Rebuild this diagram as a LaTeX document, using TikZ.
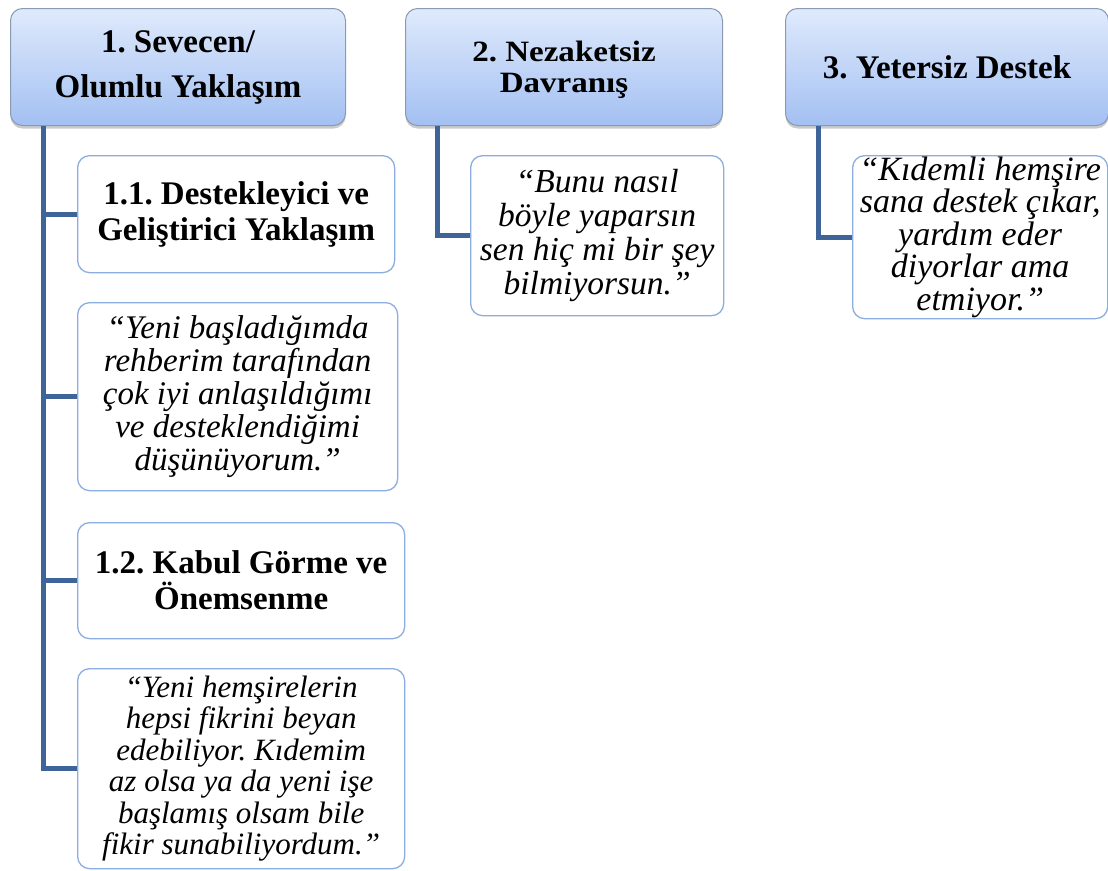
\documentclass[tikz,border=0pt]{standalone}
\usepackage{fontspec}
\setmainfont{Liberation Serif}
\newfontfamily\widebold[FakeStretch=1.12]{Liberation Serif}
\usetikzlibrary{shadows}
\definecolor{hdtop}{HTML}{DFEAFC}
\definecolor{hdbot}{HTML}{A3C0F2}
\definecolor{hdborder}{HTML}{8A99B4}
\definecolor{boxborder}{HTML}{8CADDF}
\definecolor{connc}{HTML}{3F6499}
\tikzset{
  header/.style={draw=hdborder, line width=1pt, rounded corners=12pt,
    top color=hdtop, bottom color=hdbot, anchor=north west, align=center,
    inner sep=0pt, font=\frenchspacing\fontsize{33}{45}\selectfont\bfseries,
    drop shadow={shadow xshift=0pt, shadow yshift=-3pt, opacity=0.35, fill=black!60}},
  subbox/.style={draw=boxborder, line width=1.3pt, rounded corners=12pt, fill=white,
    anchor=north west, align=center, inner sep=0pt,
    font=\frenchspacing\fontsize{33}{36}\selectfont\bfseries},
  quotebox/.style={draw=boxborder, line width=1.3pt, rounded corners=12pt, fill=white,
    anchor=north west, align=center, inner sep=0pt,
    font=\frenchspacing\fontsize{31}{31.5}\selectfont\itshape},
  conn/.style={draw=connc, line width=5pt}
}
\begin{document}
\begin{tikzpicture}[x=1pt,y=-1pt]
\useasboundingbox (0,0) rectangle (1108,870);
% headers
\node[header, minimum width=335pt, minimum height=117pt] (h1) at (10,8) {1. Sevecen/\\Olumlu Yaklaşım};
\node[header, minimum width=317pt, minimum height=117pt, text depth=0pt,
  font=\frenchspacing\widebold\fontsize{29.5}{31}\selectfont\bfseries] (h2) at (405,8) {2. Nezaketsiz\\Davranış};
\node[header, minimum width=323pt, minimum height=117pt] (h3) at (785,8) {3. Yetersiz Destek};
% column 1
\node[subbox, minimum width=317pt, minimum height=117pt] (s11) at (77,155) {1.1. Destekleyici ve\\Geliştirici Yaklaşım};
\node[quotebox, minimum width=320pt, minimum height=188pt,
  font=\frenchspacing\fontsize{33}{33}\selectfont\itshape] (q1) at (77,302) {“Yeni başladığımda\\rehberim tarafından\\çok iyi anlaşıldığımı\\ve desteklendiğimi\\düşünüyorum.”};
\node[subbox, minimum width=327pt, minimum height=116pt] (s12) at (77,522) {1.2. Kabul Görme ve\\Önemsenme};
\node[quotebox, minimum width=327pt, minimum height=200pt] (q2) at (77,668) {“Yeni hemşirelerin\\hepsi fikrini beyan\\edebiliyor. Kıdemim\\az olsa ya da yeni işe\\başlamış olsam bile\\fikir sunabiliyordum.”};
% column 2
\node[quotebox, minimum width=253pt, minimum height=160pt,
  font=\frenchspacing\fontsize{33.5}{34}\selectfont\itshape] (q3) at (470,155) {“Bunu nasıl\\böyle yaparsın\\sen hiç mi bir şey\\bilmiyorsun.”};
% column 3
\node[quotebox, minimum width=255pt, minimum height=163pt,
  font=\frenchspacing\fontsize{34}{32.5}\selectfont\itshape] (q4) at (852,155) {“Kıdemli hemşire\\sana destek çıkar,\\yardım eder\\diyorlar ama\\etmiyor.”};
% connectors
\coordinate (c1) at ([xshift=33pt]h1.south west);
\coordinate (c2) at ([xshift=32pt]h2.south west);
\coordinate (c3) at ([xshift=33pt]h3.south west);
\draw[conn] (c1) |- (s11.west);
\draw[conn] (c1) |- (q1.west);
\draw[conn] (c1) |- (s12.west);
\draw[conn] (c1) |- (q2.west);
\draw[conn] (c2) |- (q3.west);
\draw[conn] (c3) |- (q4.west);
\end{tikzpicture}
\end{document}
